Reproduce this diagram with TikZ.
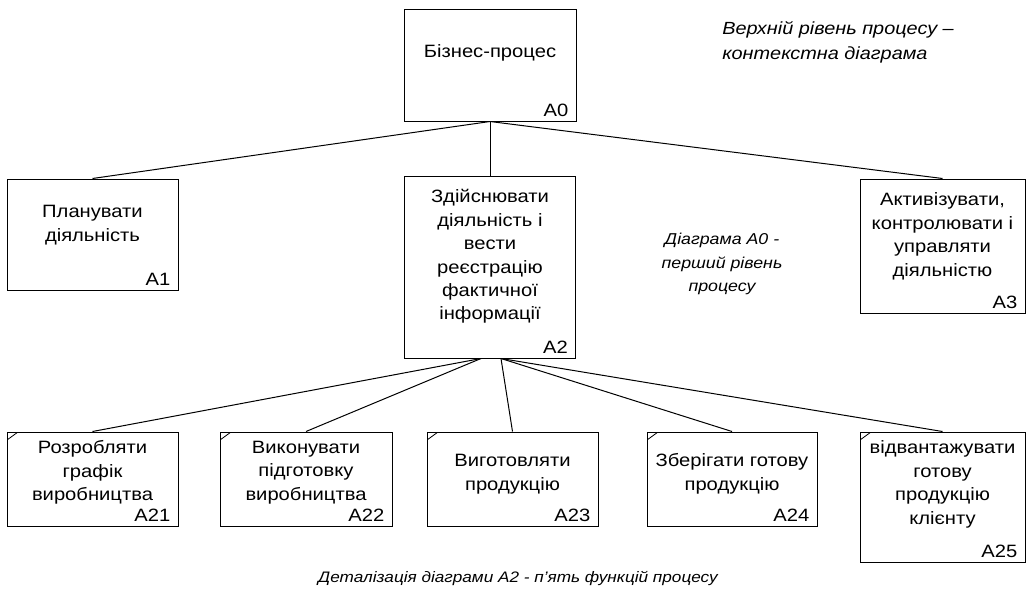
\documentclass[tikz,border=0pt]{standalone}
\usepackage{fontspec}
\setmainfont{Liberation Sans}[FakeStretch=1.13]
\usetikzlibrary{calc}
\begin{document}
\begin{tikzpicture}[x=0.75pt,y=-0.75pt,
  box/.style 2 args={draw=black, line width=0.75pt, minimum width=#1*0.75pt,
    minimum height=#2*0.75pt, inner sep=0pt},
  tick/.style={path picture={\draw[line width=0.6pt]
      ([yshift=-6pt]path picture bounding box.north west) --
      ([xshift=8.25pt]path picture bounding box.north west);}},
  txt/.style={align=center, inner sep=0pt, font=\fontsize{13.4}{17.6}\selectfont},
  code/.style={anchor=base east, inner sep=0pt, font=\fontsize{13.4}{17.6}\selectfont},
  note/.style={inner sep=0pt, font=\fontsize{12.4}{17.6}\selectfont\itshape},
  link/.style={line width=0.75pt}]

\fill[white] (0,0) rectangle (1033,600);
\useasboundingbox (0,0) rectangle (1033,600);

% context level
\node[box={172}{112}] (a0) at (490,65) {};
\node[txt] (t0) at (490,52.5) {Бізнес-процес};
\node[code] (c0) at ($(a0.south east)+(-8,-5.5)$) {A0};

% first level
\node[box={171}{111}] (a1) at (92.5,234.5) {};
\node[txt] (t1) at (92.5,225) {Планувати\\діяльність};
\node[code] (c1) at ($(a1.south east)+(-8,-5.5)$) {A1};

\node[box={171}{182}] (a2) at (490,267) {};
\node[txt] (t2) at (490,256.5) {Здійснювати\\діяльність і\\вести\\реєстрацію\\фактичної\\інформації};
\node[code] (c2) at ($(a2.south east)+(-8,-5.5)$) {A2};

\node[box={165}{134}] (a3) at (942.5,246) {};
\node[txt] (t3) at (942.5,236.4) {Активізувати,\\контролювати і\\управляти\\діяльністю};
\node[code] (c3) at ($(a3.south east)+(-8,-5.5)$) {A3};

% second level
\node[box={171}{94}, tick] (a21) at (92.5,479) {};
\node[txt] (t21) at (92.5,472.6) {Розробляти\\графік\\виробництва};
\node[code] (c21) at ($(a21.south east)+(-8,-5.5)$) {A21};

\node[box={172}{94}, tick] (a22) at (306,479) {};
\node[txt] (t22) at (306,472.6) {Виконувати\\підготовку\\виробництва};
\node[code] (c22) at ($(a22.south east)+(-8,-5.5)$) {A22};

\node[box={171}{94}, tick] (a23) at (512.5,479) {};
\node[txt] (t23) at (512.5,474) {Виготовляти\\продукцію};
\node[code] (c23) at ($(a23.south east)+(-8,-5.5)$) {A23};

\node[box={170}{94}, tick] (a24) at (732,479) {};
\node[txt] (t24) at (732,474) {Зберігати готову\\продукцію};
\node[code] (c24) at ($(a24.south east)+(-8,-5.5)$) {A24};

\node[box={165}{130}, tick] (a25) at (942.5,497) {};
\node[txt] (t25) at (942.5,484.5) {відвантажувати\\готову\\продукцію\\клієнту};
\node[code] (c25) at ($(a25.south east)+(-8,-5.5)$) {A25};

% tree connectors
\draw[link] (a0.south) -- (a1.north);
\draw[link] (a0.south) -- (a2.north);
\draw[link] (a0.south) -- (a3.north);

\coordinate (fanL) at ($(a2.south)+(-9,0)$);
\coordinate (fanR) at ($(a2.south)+(11,0)$);
\draw[link] (fanL) -- (a21.north);
\draw[link] (fanL) -- (a22.north);
\draw[link] (fanR) -- (a23.north);
\draw[link] (fanR) -- (a24.north);
\draw[link] (fanR) -- (a25.north);

% annotations
\node[note, anchor=west, align=left, font=\fontsize{13.2}{18.5}\selectfont\itshape] (n0) at (722,42.5)
  {Верхній рівень процесу –\\контекстна діаграма};
\node[note, align=center, font=\fontsize{11.8}{17.6}\selectfont\itshape] (n1) at (722,264)
  {Діаграма A0 -\\перший рівень\\процесу};
\node[note, font=\fontsize{11.4}{17.6}\selectfont\itshape] (n2) at (518,578)
  {Деталізація діаграми A2 - п'ять функцій процесу};
\end{tikzpicture}
\end{document}
